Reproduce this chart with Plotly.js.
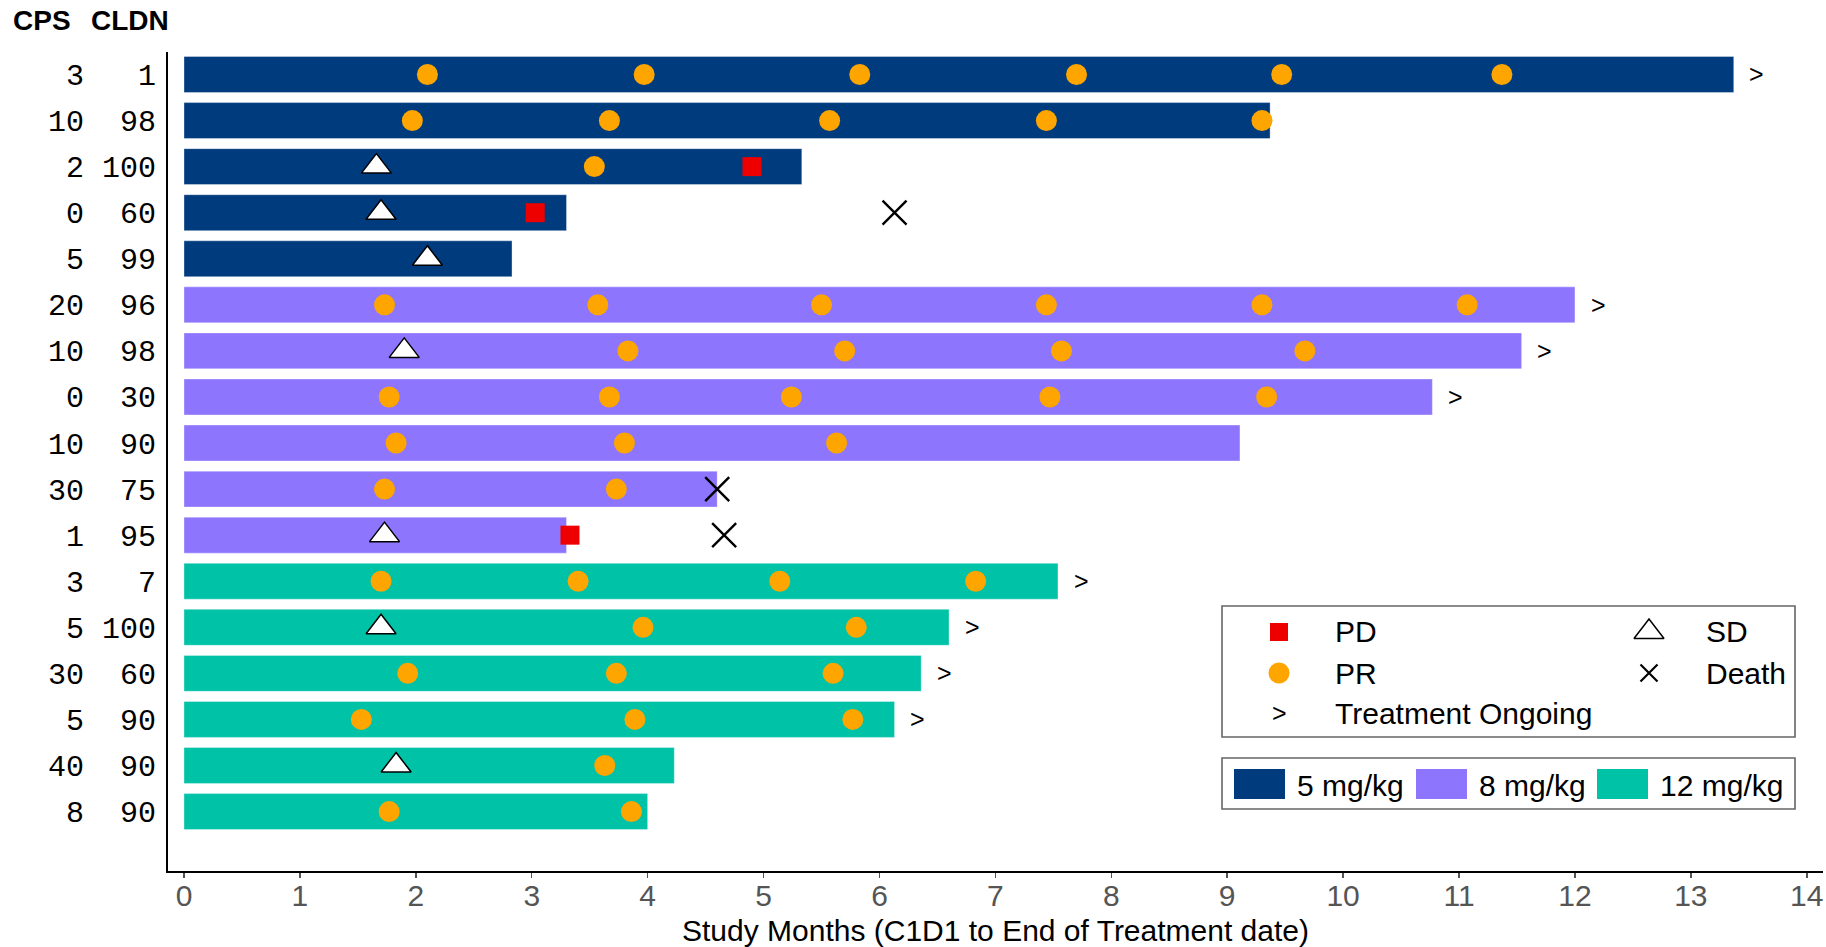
<!DOCTYPE html>
<html>
<head>
<meta charset="utf-8">
<script src="https://cdn.plot.ly/plotly-3.0.1.min.js"></script>
<style>
  html, body { margin: 0; padding: 0; background: #ffffff; }
  #chart { width: 1826px; height: 947px; }
</style>
</head>
<body>
<div id="chart"></div>
<script>
// Patients listed top to bottom
const cps  = [3, 10, 2, 0, 5, 20, 10, 0, 10, 30, 1, 3, 5, 30, 5, 40, 8];
const cldn = [1, 98, 100, 60, 99, 96, 98, 30, 90, 75, 95, 7, 100, 60, 90, 90, 90];
const dose = ['5 mg/kg', '5 mg/kg', '5 mg/kg', '5 mg/kg', '5 mg/kg',
              '8 mg/kg', '8 mg/kg', '8 mg/kg', '8 mg/kg', '8 mg/kg', '8 mg/kg',
              '12 mg/kg', '12 mg/kg', '12 mg/kg', '12 mg/kg', '12 mg/kg', '12 mg/kg'];
// Study months from C1D1 to end of treatment
const months = [13.37, 9.37, 5.33, 3.30, 2.83, 12.00, 11.54, 10.77, 9.11, 4.60, 3.30,
                7.54, 6.60, 6.36, 6.13, 4.23, 4.00];
// Response assessments (months)
const prTimes = [
  [2.10, 3.97, 5.83, 7.70, 9.47, 11.37],
  [1.97, 3.67, 5.57, 7.44, 9.30],
  [3.54],
  [],
  [],
  [1.73, 3.57, 5.50, 7.44, 9.30, 11.07],
  [3.83, 5.70, 7.57, 9.67],
  [1.77, 3.67, 5.24, 7.47, 9.34],
  [1.83, 3.80, 5.63],
  [1.73, 3.73],
  [],
  [1.70, 3.40, 5.14, 6.83],
  [3.96, 5.80],
  [1.93, 3.73, 5.60],
  [1.53, 3.89, 5.77],
  [3.63],
  [1.77, 3.86]
];
const sdTimes = [[], [], [1.66], [1.70], [2.10], [], [1.90], [], [], [], [1.73],
                 [], [1.70], [], [], [1.83], []];
const pdTimes = [[], [], [4.90], [3.03], [], [], [], [], [], [], [3.33],
                 [], [], [], [], [], []];
const deathTimes = [[], [], [], [6.13], [], [], [], [], [], [4.60], [4.66],
                    [], [], [], [], [], []];
const ongoing = [true, false, false, false, false, true, true, true, false, false, false,
                 true, true, true, true, false, false];

const doseGroups = ['5 mg/kg', '8 mg/kg', '12 mg/kg'];
const doseColors = {'5 mg/kg': '#003b7e', '8 mg/kg': '#8e75fd', '12 mg/kg': '#00c2a7'};
const eventLabels = ['PD', 'SD', 'PR', 'Death', 'Treatment Ongoing'];
const xTicks = [0, 1, 2, 3, 4, 5, 6, 7, 8, 9, 10, 11, 12, 13, 14];

// ---- page geometry ----
const W = 1826, H = 947;
const M = {l: 168, r: 3, t: 52, b: 76};
const plotW = W - M.l - M.r, plotH = H - M.t - M.b;
const px = X => (X - M.l) / plotW;          // page pixel -> paper x
const py = Y => (H - M.b - Y) / plotH;      // page pixel -> paper y

const SANS = 'Liberation Sans, Arial, sans-serif';
const NARROW = 'Liberation Sans Narrow, Arial Narrow, Liberation Sans, sans-serif';
const MONO = 'Liberation Mono, DejaVu Sans Mono, monospace';
const NB = '\u00A0';

const rows = cps.map((_, i) => i + 1);
const rowLabels = cps.map((c, i) => String(c) + NB.repeat(4 - String(cldn[i]).length) + String(cldn[i]));

function flatten(times) {
  const xs = [], ys = [];
  times.forEach((arr, i) => arr.forEach(t => { xs.push(t); ys.push(rows[i]); }));
  return {x: xs, y: ys};
}

const traces = [];

// bars per dose group
doseGroups.forEach(g => {
  const idx = dose.map((d, i) => d === g ? i : -1).filter(i => i >= 0);
  traces.push({
    type: 'bar', orientation: 'h',
    x: idx.map(i => months[i]), y: idx.map(i => rows[i]),
    width: 0.78,
    marker: {color: doseColors[g], line: {color: 'rgba(255,255,255,0.35)', width: 1}},
    showlegend: false, hoverinfo: 'skip'
  });
});

const pr = flatten(prTimes), sd = flatten(sdTimes), pd = flatten(pdTimes), dt = flatten(deathTimes);
traces.push({type: 'scatter', mode: 'markers', x: pr.x, y: pr.y, showlegend: false,
  marker: {symbol: 'circle', size: 21, color: '#ffa500', line: {width: 0}}});
traces.push({type: 'scatter', mode: 'markers', x: sd.x, y: sd.y, showlegend: false,
  marker: {symbol: 'triangle-up', size: 26, color: '#ffffff', line: {color: '#000000', width: 1.5}}});
traces.push({type: 'scatter', mode: 'markers', x: pd.x, y: pd.y, showlegend: false,
  marker: {symbol: 'square', size: 19, color: '#ee0000', line: {width: 0}}});
traces.push({type: 'scatter', mode: 'markers', x: dt.x, y: dt.y, showlegend: false, cliponaxis: false,
  marker: {symbol: 'x-thin', size: 24, color: '#000000', line: {color: '#000000', width: 2.4}}});

const annotations = [];

// treatment ongoing arrows just past the bar end
months.forEach((m, i) => {
  if (!ongoing[i]) return;
  annotations.push({text: '>', x: m + 0.2, y: rows[i], xref: 'x', yref: 'y', showarrow: false,
    xanchor: 'center', yanchor: 'middle', font: {family: SANS, size: 25, color: '#000000'}});
});

// ---- legend graphics drawn on a pixel overlay axis ----
const legSym = {x: 1279, xr: 1649, y: [632, 673, 713]};
traces.push({type: 'scatter', mode: 'markers', xaxis: 'x2', yaxis: 'y2', showlegend: false,
  x: [legSym.x], y: [legSym.y[0]], marker: {symbol: 'square', size: 18, color: '#ee0000'}});
traces.push({type: 'scatter', mode: 'markers', xaxis: 'x2', yaxis: 'y2', showlegend: false,
  x: [legSym.x], y: [legSym.y[1]], marker: {symbol: 'circle', size: 21, color: '#ffa500'}});
traces.push({type: 'scatter', mode: 'markers', xaxis: 'x2', yaxis: 'y2', showlegend: false,
  x: [legSym.xr], y: [legSym.y[0]], marker: {symbol: 'triangle-up', size: 26, color: '#ffffff', line: {color: '#000', width: 1.5}}});
traces.push({type: 'scatter', mode: 'markers', xaxis: 'x2', yaxis: 'y2', showlegend: false,
  x: [legSym.xr], y: [legSym.y[1]], marker: {symbol: 'x-thin', size: 17, line: {color: '#000', width: 2.2}}});
annotations.push({text: '>', x: px(legSym.x), y: py(legSym.y[2]), xref: 'paper', yref: 'paper', showarrow: false,
  xanchor: 'center', yanchor: 'middle', font: {family: SANS, size: 25, color: '#000'}});

const legendFont = {family: SANS, size: 30, color: '#000000'};
annotations.push(
  {text: '<b>CPS</b>', x: px(42), y: py(21), xref: 'paper', yref: 'paper', showarrow: false,
   font: {family: SANS, size: 28, color: '#000'}, xanchor: 'center', yanchor: 'middle'},
  {text: '<b>CLDN</b>', x: px(130), y: py(21), xref: 'paper', yref: 'paper', showarrow: false,
   font: {family: SANS, size: 28, color: '#000'}, xanchor: 'center', yanchor: 'middle'}
);
const legText = [
  [eventLabels[0], 1333, legSym.y[0]],
  [eventLabels[1], 1704, legSym.y[0]],
  [eventLabels[2], 1333, legSym.y[1]],
  [eventLabels[3], 1704, legSym.y[1]],
  [eventLabels[4], 1333, legSym.y[2]]
];
legText.forEach(([t, X, Y]) => annotations.push({text: t, x: px(X), y: py(Y), xref: 'paper', yref: 'paper',
  showarrow: false, xanchor: 'left', yanchor: 'middle', font: legendFont}));

const shapes = [
  {type: 'rect', xref: 'paper', yref: 'paper', x0: px(1222), x1: px(1795), y0: py(737), y1: py(606),
   line: {color: '#666666', width: 1.6}, fillcolor: '#ffffff', layer: 'below'},
  {type: 'rect', xref: 'paper', yref: 'paper', x0: px(1222), x1: px(1795), y0: py(809), y1: py(758),
   line: {color: '#666666', width: 1.6}, fillcolor: '#ffffff', layer: 'below'}
];
const swatchX = [1234, 1416, 1597];
doseGroups.forEach((g, k) => {
  shapes.push({type: 'rect', xref: 'paper', yref: 'paper', x0: px(swatchX[k]), x1: px(swatchX[k] + 51),
    y0: py(799), y1: py(769), line: {width: 0}, fillcolor: doseColors[g]});
  annotations.push({text: g, x: px(swatchX[k] + 61), y: py(785), xref: 'paper', yref: 'paper',
    showarrow: false, xanchor: 'left', yanchor: 'middle', font: legendFont});
});

const layout = {
  width: W, height: H,
  margin: M,
  paper_bgcolor: '#ffffff', plot_bgcolor: 'rgba(0,0,0,0)',
  showlegend: false,
  bargap: 0,
  xaxis: {
    range: [-0.138, 14.14], tickvals: xTicks, ticktext: xTicks.map(String),
    showgrid: false, zeroline: false,
    showline: true, linecolor: '#000000', linewidth: 2,
    ticks: 'outside', ticklen: 5, tickwidth: 1.5, tickcolor: '#555555',
    ticklabelstandoff: -8,
    tickfont: {family: NARROW, size: 30, color: '#555555'},
    title: {text: 'Study Months (C1D1 to End of Treatment date)', font: {family: SANS, size: 30, color: '#000000'}, standoff: 12}
  },
  yaxis: {
    range: [18.29, 0.512], tickvals: rows, ticktext: rowLabels,
    showgrid: false, zeroline: false,
    showline: true, linecolor: '#000000', linewidth: 2,
    ticks: '', ticklabelstandoff: 4,
    tickfont: {family: MONO, size: 30, color: '#000000'}
  },
  xaxis2: {overlaying: 'x', range: [M.l, W - M.r], visible: false, fixedrange: true},
  yaxis2: {overlaying: 'y', range: [H - M.b, M.t], visible: false, fixedrange: true},
  shapes: shapes,
  annotations: annotations
};

Plotly.newPlot('chart', traces, layout, {displayModeBar: false, staticPlot: true});
</script>
</body>
</html>
